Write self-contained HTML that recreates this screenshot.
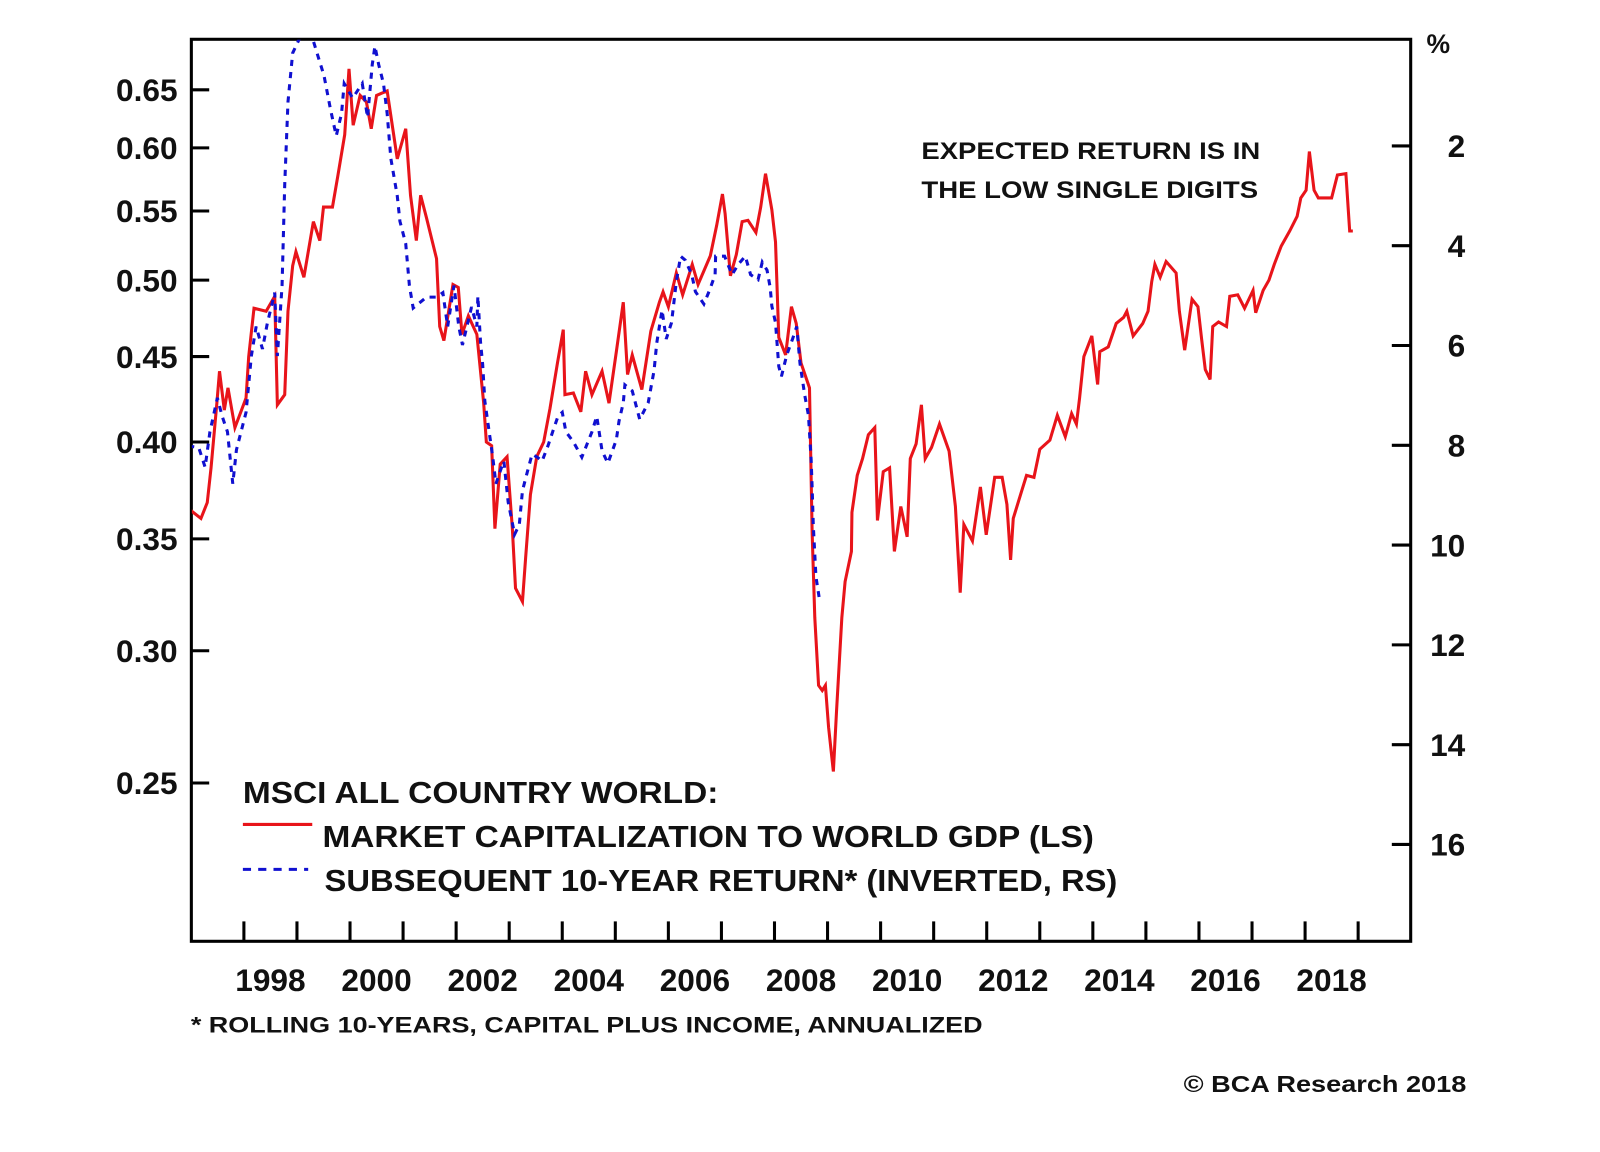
<!DOCTYPE html>
<html><head><meta charset="utf-8"><style>
html,body{margin:0;padding:0;background:#fff;}
svg{display:block;}
text{font-family:"Liberation Sans",Arial,sans-serif;fill:#111;}
</style></head>
<body>
<svg id="chart" width="1600" height="1152" viewBox="0 0 1568 1129" xmlns="http://www.w3.org/2000/svg">
<defs><clipPath id="plotclip"><rect x="188" y="39" width="1193" height="882"/></clipPath></defs>
<rect x="187.5" y="38.5" width="1195" height="884" fill="none" stroke="#000" stroke-width="3"/>
<g id="axes"></g>
<g id="series" clip-path="url(#plotclip)"></g>
<text x="903" y="156" font-size="24" font-weight="bold" textLength="332" lengthAdjust="spacingAndGlyphs">EXPECTED RETURN IS IN</text>
<text x="903" y="194" font-size="24" font-weight="bold" textLength="330" lengthAdjust="spacingAndGlyphs">THE LOW SINGLE DIGITS</text>
<g>
<text x="238" y="787" font-size="30" font-weight="bold" textLength="466" lengthAdjust="spacingAndGlyphs">MSCI ALL COUNTRY WORLD:</text>
<line x1="238" y1="808" x2="306" y2="808" stroke="#e8141a" stroke-width="3"/>
<text x="316" y="830" font-size="30" font-weight="bold" textLength="756" lengthAdjust="spacingAndGlyphs">MARKET CAPITALIZATION TO WORLD GDP (LS)</text>
<line x1="238" y1="852" x2="302" y2="852" stroke="#1010d0" stroke-width="3" stroke-dasharray="8 7"/>
<text x="318" y="873" font-size="30" font-weight="bold" textLength="777" lengthAdjust="spacingAndGlyphs">SUBSEQUENT 10-YEAR RETURN* (INVERTED, RS)</text>
</g>
<text x="1398" y="52" font-size="26" font-weight="bold">%</text>
<text x="187" y="1012" font-size="22" font-weight="bold" textLength="776" lengthAdjust="spacingAndGlyphs">* ROLLING 10-YEARS, CAPITAL PLUS INCOME, ANNUALIZED</text>
<text x="1437" y="1070" font-size="23" font-weight="bold" text-anchor="end" textLength="277" lengthAdjust="spacingAndGlyphs">© BCA Research 2018</text>
</svg>
<script>
const leftTicks = [0.25, 0.30, 0.35, 0.40, 0.45, 0.50, 0.55, 0.60, 0.65];
const leftTickLabels = ["0.25","0.30","0.35","0.40","0.45","0.50","0.55","0.60","0.65"];
const rightTicks = [2, 4, 6, 8, 10, 12, 14, 16];
const xTickYears = [1998,1999,2000,2001,2002,2003,2004,2005,2006,2007,2008,2009,2010,2011,2012,2013,2014,2015,2016,2017,2018,2019];
const xLabelYears = [1998,2000,2002,2004,2006,2008,2010,2012,2014,2016,2018];

const redDates = [1997.00,1997.19,1997.31,1997.38,1997.49,1997.54,1997.63,1997.70,1997.83,1998.04,1998.09,1998.19,1998.42,1998.58,1998.63,1998.77,1998.83,1998.92,1998.98,1999.13,1999.31,1999.43,1999.50,1999.67,1999.77,1999.90,1999.98,2000.06,2000.19,2000.31,2000.40,2000.50,2000.70,2000.89,2001.05,2001.14,2001.25,2001.33,2001.44,2001.63,2001.69,2001.77,2001.94,2002.04,2002.11,2002.23,2002.39,2002.52,2002.57,2002.67,2002.73,2002.83,2002.96,2003.06,2003.12,2003.25,2003.31,2003.40,2003.52,2003.65,2003.77,2003.91,2004.02,2004.05,2004.21,2004.35,2004.44,2004.56,2004.75,2004.88,2005.02,2005.15,2005.23,2005.32,2005.50,2005.67,2005.83,2005.90,2006.00,2006.15,2006.27,2006.45,2006.56,2006.79,2006.91,2007.02,2007.07,2007.17,2007.28,2007.39,2007.50,2007.65,2007.74,2007.83,2007.95,2008.02,2008.08,2008.21,2008.32,2008.41,2008.50,2008.66,2008.71,2008.76,2008.83,2008.90,2008.96,2009.02,2009.11,2009.17,2009.27,2009.33,2009.45,2009.46,2009.56,2009.66,2009.77,2009.89,2009.94,2010.05,2010.17,2010.26,2010.38,2010.50,2010.56,2010.67,2010.77,2010.84,2010.96,2011.11,2011.29,2011.41,2011.50,2011.57,2011.73,2011.88,2011.99,2012.15,2012.29,2012.38,2012.45,2012.50,2012.66,2012.75,2012.89,2013.00,2013.19,2013.33,2013.48,2013.60,2013.69,2013.75,2013.83,2013.98,2014.09,2014.13,2014.29,2014.44,2014.58,2014.64,2014.76,2014.94,2015.04,2015.11,2015.17,2015.27,2015.38,2015.57,2015.63,2015.73,2015.87,2015.98,2016.05,2016.12,2016.21,2016.26,2016.37,2016.52,2016.58,2016.73,2016.86,2017.02,2017.07,2017.21,2017.32,2017.42,2017.55,2017.71,2017.85,2017.92,2018.02,2018.08,2018.17,2018.25,2018.50,2018.61,2018.77,2018.84,2018.90];
const redValues = [0.364,0.360,0.368,0.386,0.422,0.441,0.418,0.431,0.408,0.425,0.450,0.481,0.479,0.489,0.421,0.427,0.479,0.510,0.520,0.502,0.542,0.528,0.553,0.553,0.577,0.611,0.669,0.619,0.645,0.639,0.616,0.645,0.649,0.591,0.616,0.562,0.528,0.562,0.545,0.515,0.469,0.460,0.497,0.495,0.464,0.476,0.464,0.422,0.400,0.398,0.355,0.388,0.392,0.355,0.327,0.321,0.341,0.372,0.392,0.400,0.419,0.446,0.467,0.427,0.428,0.417,0.441,0.427,0.441,0.422,0.453,0.485,0.439,0.451,0.430,0.466,0.485,0.492,0.482,0.505,0.490,0.511,0.497,0.517,0.539,0.563,0.548,0.503,0.518,0.542,0.543,0.534,0.553,0.579,0.551,0.527,0.462,0.451,0.482,0.471,0.446,0.431,0.353,0.314,0.286,0.284,0.286,0.270,0.254,0.276,0.314,0.330,0.344,0.363,0.382,0.391,0.404,0.408,0.359,0.384,0.386,0.344,0.366,0.351,0.391,0.399,0.421,0.391,0.397,0.410,0.395,0.366,0.325,0.357,0.349,0.376,0.352,0.381,0.381,0.367,0.340,0.360,0.374,0.382,0.381,0.396,0.401,0.415,0.403,0.416,0.410,0.425,0.450,0.463,0.433,0.453,0.456,0.471,0.475,0.479,0.463,0.471,0.479,0.499,0.511,0.502,0.513,0.505,0.479,0.454,0.487,0.482,0.461,0.442,0.436,0.469,0.472,0.469,0.489,0.490,0.481,0.493,0.478,0.493,0.500,0.511,0.524,0.535,0.546,0.560,0.566,0.597,0.566,0.560,0.560,0.578,0.579,0.535,0.535];

const blueDates = [1996.95,1997.15,1997.27,1997.36,1997.50,1997.59,1997.69,1997.79,1997.86,1998.04,1998.14,1998.23,1998.35,1998.44,1998.58,1998.63,1998.72,1998.77,1998.83,1998.92,1999.07,1999.28,1999.42,1999.51,1999.63,1999.74,1999.84,1999.89,2000.05,2000.23,2000.33,2000.42,2000.47,2000.54,2000.63,2000.70,2000.77,2000.89,2000.94,2001.05,2001.12,2001.19,2001.44,2001.63,2001.75,2001.84,2001.96,2002.05,2002.12,2002.29,2002.39,2002.41,2002.46,2002.50,2002.54,2002.60,2002.69,2002.75,2002.85,2002.90,2002.98,2003.08,2003.10,2003.19,2003.25,2003.34,2003.43,2003.53,2003.62,2003.73,2003.82,2003.92,2004.00,2004.07,2004.21,2004.37,2004.56,2004.65,2004.75,2004.86,2005.02,2005.07,2005.15,2005.18,2005.32,2005.46,2005.62,2005.73,2005.78,2005.88,2005.96,2006.06,2006.15,2006.23,2006.32,2006.44,2006.51,2006.67,2006.78,2006.88,2006.89,2007.06,2007.20,2007.32,2007.45,2007.55,2007.69,2007.77,2007.86,2007.92,2007.95,2008.02,2008.08,2008.13,2008.23,2008.34,2008.42,2008.48,2008.57,2008.64,2008.69,2008.71,2008.73,2008.78,2008.84];
const blueValues = [8.01,8.05,8.44,7.73,7.05,7.42,7.73,8.77,8.09,7.34,6.21,5.62,6.07,5.56,4.94,6.21,4.80,2.78,1.12,0.14,-0.20,-0.20,0.28,0.59,1.26,1.80,1.35,0.75,1.04,0.75,1.43,0.37,0.00,0.37,0.75,1.35,2.25,3.00,3.51,3.96,4.80,5.25,5.03,5.03,4.94,5.62,4.80,5.62,5.99,5.23,5.62,5.01,5.93,6.38,7.11,7.56,8.24,8.77,8.46,8.32,9.14,9.67,9.79,9.59,8.91,8.54,8.18,8.24,8.32,8.01,7.73,7.42,7.34,7.73,7.93,8.24,7.73,7.42,8.11,8.36,7.89,7.52,7.15,6.79,6.91,7.48,7.15,6.50,5.95,5.29,5.87,5.54,4.72,4.21,4.29,4.58,4.92,5.17,4.88,4.58,4.21,4.21,4.58,4.37,4.21,4.58,4.68,4.33,4.49,4.84,5.21,5.54,6.42,6.62,6.19,5.87,5.62,6.36,6.99,7.40,8.28,8.85,9.59,10.63,11.04];

const NS = "http://www.w3.org/2000/svg";
const PX_PER_YEAR = 52;
function xScale(year){ return 239 + (year - 1998) * PX_PER_YEAR; }
function yLeft(v){ return 88 - Math.log(v / 0.65) * 711; }
function yRight(v){ return 143 + (v - 2) * 48.9; }

const axes = document.getElementById('axes');
const series = document.getElementById('series');
function mk(tag, attrs, parent){
  const el = document.createElementNS(NS, tag);
  for (const k in attrs) el.setAttribute(k, attrs[k]);
  parent.appendChild(el);
  return el;
}

leftTicks.forEach((t, i) => {
  const y = yLeft(t);
  const tk = mk('line', {x1:187, y1:y, x2:205, y2:y, stroke:'#000', 'stroke-width':3}, axes);
  
  
  const lb = mk('text', {x:174, y:y+11, 'font-size':31, 'font-weight':'bold', 'text-anchor':'end'}, axes);
  lb.textContent = leftTickLabels[i];
  
  
});

rightTicks.forEach(t => {
  const y = yRight(t);
  const tk = mk('line', {x1:1364, y1:y, x2:1382, y2:y, stroke:'#000', 'stroke-width':3}, axes);
  
  
  const lb = mk('text', {x:1436, y:y+11, 'font-size':31, 'font-weight':'bold', 'text-anchor':'end'}, axes);
  lb.textContent = String(t);
  
  
});

xTickYears.forEach(yr => {
  const x = xScale(yr);
  const tk = mk('line', {x1:x, y1:903, x2:x, y2:922, stroke:'#000', 'stroke-width':3}, axes);
  
  
});
xLabelYears.forEach(yr => {
  const x = xScale(yr + 0.5);
  const lb = mk('text', {x:x, y:971, 'font-size':31, 'font-weight':'bold', 'text-anchor':'middle'}, axes);
  lb.textContent = String(yr);
  
  
});

const redPts = redDates.map((d, i) => xScale(d).toFixed(1) + ',' + yLeft(redValues[i]).toFixed(1)).join(' ');
const red = mk('polyline', {points:redPts, fill:'none', stroke:'#e8141a', 'stroke-width':3, 'stroke-linejoin':'miter'}, series);



const bluePts = blueDates.map((d, i) => xScale(d).toFixed(1) + ',' + yRight(blueValues[i]).toFixed(1)).join(' ');
const blue = mk('polyline', {points:bluePts, fill:'none', stroke:'#1010d0', 'stroke-width':3, 'stroke-dasharray':'6 6'}, series);


</script>
</body></html>
